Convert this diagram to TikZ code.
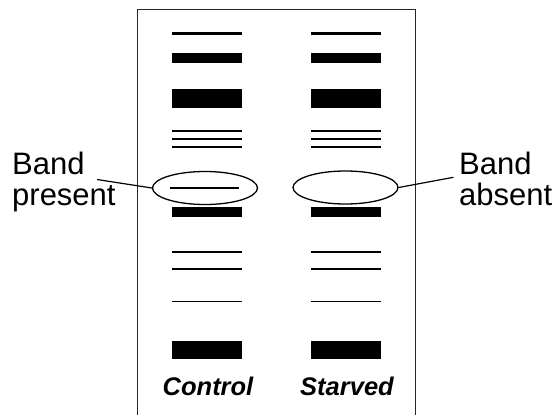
\documentclass[tikz,border=0pt]{standalone}
\usepackage{fontspec}
\setmainfont{Liberation Sans}
\usetikzlibrary{shapes.geometric}
\begin{document}
\begin{tikzpicture}[x=1pt,y=-1pt,
  band/.style={fill=black,draw=none,inner sep=0pt,minimum width=70pt,rectangle},
  ring/.style={draw=black,line width=1.3pt,ellipse,inner sep=0pt,minimum width=105pt,minimum height=33pt},
  lbl/.style={font=\fontsize{31}{31}\selectfont,align=left,inner sep=0pt,anchor=base west},
  lane/.style={font=\fontsize{25.5}{25.5}\selectfont\bfseries\itshape,inner sep=0pt,anchor=base},
  conn/.style={draw=black,line width=1.2pt}]
\useasboundingbox (0,0) rectangle (555,415);
% frame
\draw[line width=1.3pt,draw=black!85] (137.5,420) -- (137.5,9.3) -- (415.7,9.3) -- (415.7,420);
% bands: left lane centre 207, right lane centre 346
\foreach \lx/\nm in {207/L,346/R}{
  \node[band,minimum height=2.7pt] (\nm1) at (\lx,33.5) {};
  \node[band,minimum height=9.3pt] (\nm2) at (\lx,58) {};
  \node[band,minimum height=19pt] (\nm3) at (\lx,98.8) {};
  \node[band,minimum height=2.3pt] (\nm4) at (\lx,131) {};
  \node[band,minimum height=2.3pt] (\nm5) at (\lx,139) {};
  \node[band,minimum height=1.5pt] (\nm6) at (\lx,147) {};
  \node[band,minimum height=9.3pt] (\nm7) at (\lx,212) {};
  \node[band,minimum height=2pt] (\nm8) at (\lx,252.3) {};
  \node[band,minimum height=2pt] (\nm9) at (\lx,268.7) {};
  \node[band,minimum height=1pt] (\nm10) at (\lx,301) {};
  \node[band,minimum height=18pt] (\nm11) at (\lx,350) {};
}
\node[band,minimum width=69pt,minimum height=2.2pt] (Lx) at (204.5,188.3) {};
% ellipses
\node[ring] (ringL) at (205,188) {};
\node[ring] (ringR) at (345.5,187.5) {};
% labels
\node[lbl] (present) at (12,205) {Band\\present};
\node[lbl] (absent) at (459,205) {Band\\absent};
\coordinate (pL) at (97,179.5);
\coordinate (pR) at (453.5,177.3);
\draw[conn] (pL) -- (ringL.west);
\draw[conn] (ringR.east) -- (pR);
% lane names
\node[lane] (control) at (208,395) {Control};
\node[lane] (starved) at (347,395) {Starved};
\end{tikzpicture}
\end{document}
